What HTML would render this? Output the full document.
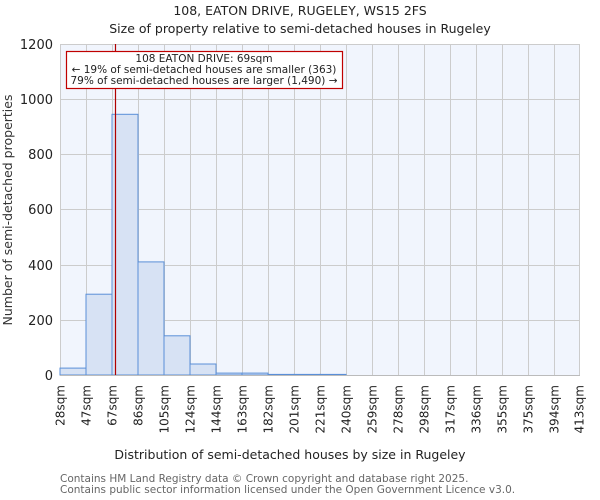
<!DOCTYPE html>
<html><head><meta charset="utf-8"><style>body{margin:0;background:#fff}svg{display:block;font-family:"DejaVu Sans","Liberation Sans",sans-serif}</style></head><body>
<svg width="600" height="500" viewBox="0 0 600 500">
<text x="300" y="15" text-anchor="middle" font-size="12.5" fill="#222">108, EATON DRIVE, RUGELEY, WS15 2FS</text>
<text x="300" y="33" text-anchor="middle" font-size="12.5" fill="#222">Size of property relative to semi-detached houses in Rugeley</text>
<rect x="60" y="44" width="520" height="331" fill="#f1f5fd"/>
<g stroke="#cccccc" stroke-width="1">
<line x1="60" x2="580" y1="44.5" y2="44.5"/><line x1="60" x2="580" y1="99.5" y2="99.5"/><line x1="60" x2="580" y1="154.5" y2="154.5"/><line x1="60" x2="580" y1="209.5" y2="209.5"/><line x1="60" x2="580" y1="265.5" y2="265.5"/><line x1="60" x2="580" y1="320.5" y2="320.5"/>
<line x1="60.5" x2="60.5" y1="44" y2="375"/><line x1="86.5" x2="86.5" y1="44" y2="375"/><line x1="112.5" x2="112.5" y1="44" y2="375"/><line x1="138.5" x2="138.5" y1="44" y2="375"/><line x1="164.5" x2="164.5" y1="44" y2="375"/><line x1="190.5" x2="190.5" y1="44" y2="375"/><line x1="216.5" x2="216.5" y1="44" y2="375"/><line x1="242.5" x2="242.5" y1="44" y2="375"/><line x1="268.5" x2="268.5" y1="44" y2="375"/><line x1="294.5" x2="294.5" y1="44" y2="375"/><line x1="320.5" x2="320.5" y1="44" y2="375"/><line x1="346.5" x2="346.5" y1="44" y2="375"/><line x1="372.5" x2="372.5" y1="44" y2="375"/><line x1="398.5" x2="398.5" y1="44" y2="375"/><line x1="424.5" x2="424.5" y1="44" y2="375"/><line x1="450.5" x2="450.5" y1="44" y2="375"/><line x1="476.5" x2="476.5" y1="44" y2="375"/><line x1="502.5" x2="502.5" y1="44" y2="375"/><line x1="528.5" x2="528.5" y1="44" y2="375"/><line x1="554.5" x2="554.5" y1="44" y2="375"/><line x1="579.5" x2="579.5" y1="44" y2="375"/>
</g>
<g fill="#d7e2f4" stroke="#5a8fd8" stroke-width="1">
<rect x="60" y="368.1" width="26" height="6.9"/>
<rect x="86" y="294.2" width="26" height="80.8"/>
<rect x="112" y="114.3" width="26" height="260.7"/>
<rect x="138" y="261.9" width="26" height="113.1"/>
<rect x="164" y="335.8" width="26" height="39.2"/>
<rect x="190" y="364" width="26" height="11"/>
<rect x="216" y="373.1" width="26" height="1.9"/>
<rect x="242" y="373.1" width="26" height="1.9"/>
<rect x="268" y="374.4" width="26" height="0.6"/>
<rect x="294" y="374.4" width="26" height="0.6"/>
<rect x="320" y="374.4" width="26" height="0.6"/>
</g>
<line x1="60" x2="580" y1="375.5" y2="375.5" stroke="#bbb"/>
<line x1="115.5" x2="115.5" y1="44" y2="375" stroke="#b00000" stroke-width="1.2"/>
<rect x="66.5" y="51.5" width="276" height="37" fill="#fff" stroke="#c00000" stroke-width="1.2"/>
<g font-size="10.5" fill="#222" text-anchor="middle">
<text x="204" y="62">108 EATON DRIVE: 69sqm</text>
<text x="204" y="73">← 19% of semi-detached houses are smaller (363)</text>
<text x="204" y="84">79% of semi-detached houses are larger (1,490) →</text>
</g>
<g font-size="13" fill="#222" text-anchor="end">
<text x="53" y="380">0</text><text x="53" y="325">200</text><text x="53" y="270">400</text><text x="53" y="214">600</text><text x="53" y="159">800</text><text x="53" y="104">1000</text><text x="53" y="49">1200</text>
</g>
<text transform="translate(12,210) rotate(-90)" text-anchor="middle" font-size="12.5" fill="#333">Number of semi-detached properties</text>
<g font-size="12" fill="#222" text-anchor="end">
<text transform="translate(64.5,385) rotate(-90)">28sqm</text>
<text transform="translate(90.5,385) rotate(-90)">47sqm</text>
<text transform="translate(116.5,385) rotate(-90)">67sqm</text>
<text transform="translate(142.5,385) rotate(-90)">86sqm</text>
<text transform="translate(168.5,385) rotate(-90)">105sqm</text>
<text transform="translate(194.5,385) rotate(-90)">124sqm</text>
<text transform="translate(220.5,385) rotate(-90)">144sqm</text>
<text transform="translate(246.5,385) rotate(-90)">163sqm</text>
<text transform="translate(272.5,385) rotate(-90)">182sqm</text>
<text transform="translate(298.5,385) rotate(-90)">201sqm</text>
<text transform="translate(324.5,385) rotate(-90)">221sqm</text>
<text transform="translate(350.5,385) rotate(-90)">240sqm</text>
<text transform="translate(376.5,385) rotate(-90)">259sqm</text>
<text transform="translate(402.5,385) rotate(-90)">278sqm</text>
<text transform="translate(428.5,385) rotate(-90)">298sqm</text>
<text transform="translate(454.5,385) rotate(-90)">317sqm</text>
<text transform="translate(480.5,385) rotate(-90)">336sqm</text>
<text transform="translate(506.5,385) rotate(-90)">355sqm</text>
<text transform="translate(532.5,385) rotate(-90)">375sqm</text>
<text transform="translate(558.5,385) rotate(-90)">394sqm</text>
<text transform="translate(583.5,385) rotate(-90)">413sqm</text>
</g>
<text x="290" y="459" text-anchor="middle" font-size="12.5" fill="#222">Distribution of semi-detached houses by size in Rugeley</text>
<text x="60" y="482" font-size="10.5" fill="#666">Contains HM Land Registry data © Crown copyright and database right 2025.</text>
<text x="60" y="493" font-size="10.5" fill="#666">Contains public sector information licensed under the Open Government Licence v3.0.</text>
</svg>
</body></html>
